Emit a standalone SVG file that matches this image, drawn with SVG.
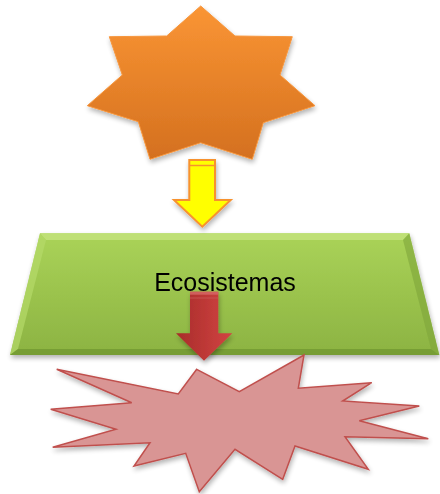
<svg xmlns="http://www.w3.org/2000/svg" width="440" height="494" viewBox="0 0 440 494">
<defs>
<linearGradient id="gOrange" x1="0" y1="0" x2="0" y2="1">
<stop offset="0" stop-color="#FA9534"/>
<stop offset="1" stop-color="#D4701F"/>
</linearGradient>
<linearGradient id="gGreen" x1="0" y1="0" x2="0" y2="1">
<stop offset="0" stop-color="#AAD358"/>
<stop offset="1" stop-color="#8CB342"/>
</linearGradient>
<linearGradient id="gRed" x1="0" y1="0" x2="1" y2="0">
<stop offset="0" stop-color="#A82C2A"/>
<stop offset="1" stop-color="#D24442"/>
</linearGradient>
<filter id="sh" x="-10%" y="-10%" width="120%" height="130%">
<feGaussianBlur in="SourceAlpha" stdDeviation="2.5"/>
<feOffset dx="1" dy="3" result="b"/>
<feComponentTransfer><feFuncA type="linear" slope="0.3"/></feComponentTransfer>
<feMerge><feMergeNode/><feMergeNode in="SourceGraphic"/></feMerge>
</filter>
</defs>
<style>
.lbl{font-family:"Liberation Sans",Arial,sans-serif;font-size:25px;fill:#000;}
</style>
<g id="sun" filter="url(#sh)">
<polygon points="200.7,6 235,36 292.3,36.7 280,75 315,105.7 263.3,122.7 252.3,159.3 200.7,142.7 150,159.3 138.3,121.7 87.3,105.7 122.3,75 109.3,36.7 166.7,36" fill="url(#gOrange)" stroke="#F7963C" stroke-width="1"/>
</g>
<g id="ecosistemas" filter="url(#sh)">
<polygon points="40,233.3 409.3,233.3 439.3,355 10,355" fill="url(#gGreen)"/>
<polygon points="40,233.3 409.3,233.3 403,240 46,240" fill="#C4E37E" opacity="0.8"/>
<polygon points="40,233.3 46,240 18,349 10,355" fill="#B5DA6A" opacity="0.7"/>
<polygon points="409.3,233.3 439.3,355 431,349 403,240" fill="#7FA53A" opacity="0.6"/>
<polygon points="10,355 439.3,355 431,349 18,349" fill="#6E9430" opacity="0.7"/>
<text class="lbl" x="225" y="291" text-anchor="middle">Ecosistemas</text>
</g>
<g id="impacto" filter="url(#sh)">
<polygon points="196.7,369.3 239.3,391.7 304,355 298.3,388.3 371.7,382.7 342.7,401 419.3,406 359.3,420.7 428.3,438.7 345,436.7 368.3,469.3 295,446 282.7,479.3 235,449.3 199.3,491.7 185.7,453.3 134,466 150,442.7 52.7,447.3 116,429.3 50.7,409.3 131.7,402.7 56.7,369.3 178.3,394" fill="#D99594" stroke="#C0504D" stroke-width="1.5" stroke-linejoin="miter"/>
</g>
<g id="connectors">
<g id="arrow-yellow" filter="url(#sh)">
<polygon points="189.3,160 215,160 215,200 230.7,200 202.3,226.7 174,200 189.3,200" fill="#FFFF00" stroke="#F7922F" stroke-width="2" stroke-linejoin="miter"/>
<line x1="190" y1="165.5" x2="214" y2="165.5" stroke="#F7922F" stroke-width="1.5"/>
</g>
<g id="arrow-red" filter="url(#sh)">
<polygon points="190,291.7 218.3,291.7 218.3,333.3 232.3,333.3 204,360.7 176,333.3 190,333.3" fill="url(#gRed)"/>
<rect x="190" y="291.7" width="28.3" height="3" fill="#D66A68" opacity="0.8"/>
<line x1="190" y1="298" x2="218.3" y2="298" stroke="#C65250" stroke-width="1"/>
</g>
</g>
</svg>
